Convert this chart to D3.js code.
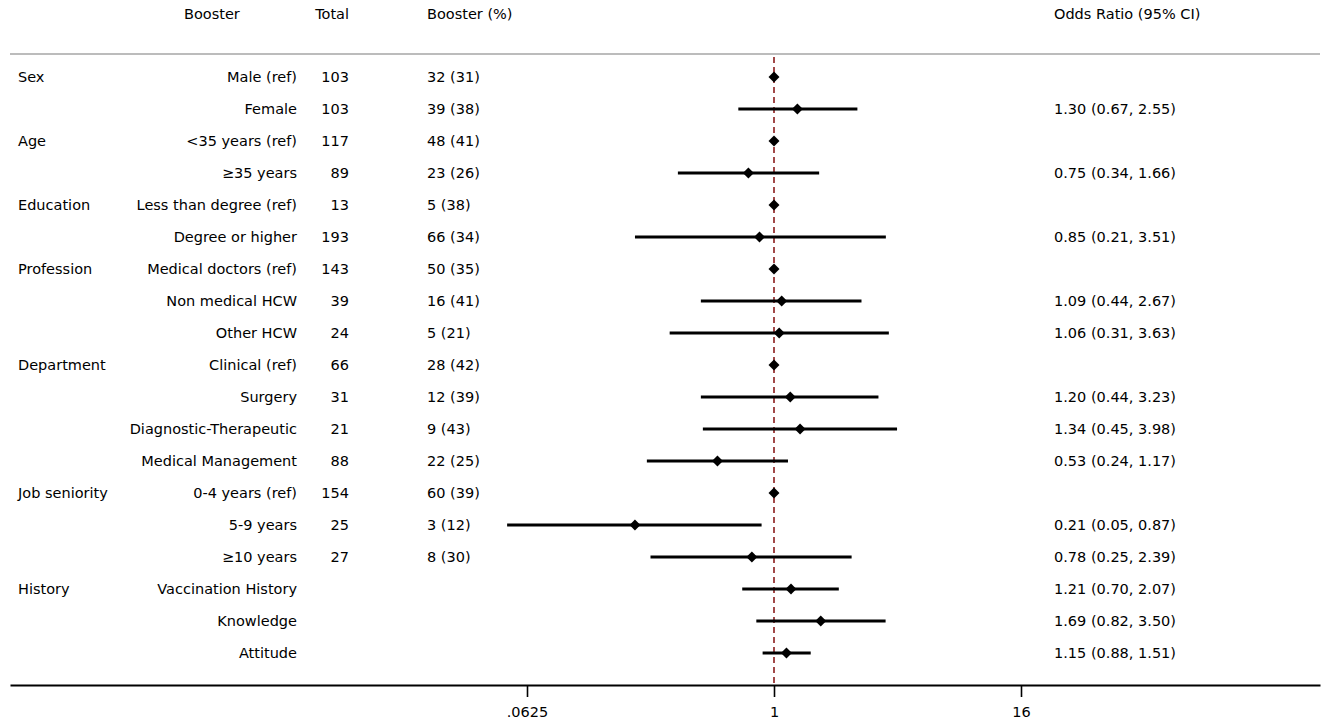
<!DOCTYPE html>
<html><head><meta charset="utf-8">
<script src="https://cdn.jsdelivr.net/npm/d3@7"></script>
<style>body{margin:0;background:#fff}text{font-family:"DejaVu Sans",sans-serif;font-size:14.5px;fill:#000}</style>
</head><body>
<svg id="c" width="1325" height="723"></svg>
<script>
const groups = ["Sex","","Age","","Education","","Profession","","","Department","","","","Job seniority","","","History","",""];
const labels = ["Male (ref)","Female","<35 years (ref)","≥35 years","Less than degree (ref)","Degree or higher","Medical doctors (ref)","Non medical HCW","Other HCW","Clinical (ref)","Surgery","Diagnostic-Therapeutic","Medical Management","0-4 years (ref)","5-9 years","≥10 years","Vaccination History","Knowledge","Attitude"];
const totals = ["103","103","117","89","13","193","143","39","24","66","31","21","88","154","25","27","","",""];
const boosterPct = ["32 (31)","39 (38)","48 (41)","23 (26)","5 (38)","66 (34)","50 (35)","16 (41)","5 (21)","28 (42)","12 (39)","9 (43)","22 (25)","60 (39)","3 (12)","8 (30)","","",""];
const oddsRatio = [1,1.30,1,0.75,1,0.85,1,1.09,1.06,1,1.20,1.34,0.53,1,0.21,0.78,1.21,1.69,1.15];
const ciLow = [null,0.67,null,0.34,null,0.21,null,0.44,0.31,null,0.44,0.45,0.24,null,0.05,0.25,0.70,0.82,0.88];
const ciHigh = [null,2.55,null,1.66,null,3.51,null,2.67,3.63,null,3.23,3.98,1.17,null,0.87,2.39,2.07,3.50,1.51];
const headers = ["Booster","Total","Booster (%)","Odds Ratio (95% CI)"];
const tickVals = [0.0625,1,16];
const tickLabels = [".0625","1","16"];

const svg = d3.select("#c");
const base = d3.scaleLog().base(2).domain([1/16,16]).range([527,1021]);
const x = d3.scaleLog().base(2).domain([base.invert(10), base.invert(1320)]).range([10,1320]);
const y = d3.scalePoint().domain(d3.range(labels.length)).range([77,653]);

// header
const hx = [[184,"start"],[349,"end"],[427,"start"],[1054,"start"]];
svg.selectAll("text.h").data(headers).join("text").attr("class","h")
  .attr("x",(d,i)=>hx[i][0]).attr("y",14).attr("dy","0.35em").attr("text-anchor",(d,i)=>hx[i][1]).text(d=>d);
svg.append("line").attr("x1",10).attr("x2",1320).attr("y1",54).attr("y2",54).attr("stroke","#bcbcbc").attr("stroke-width",2);

// reference line
svg.append("line").attr("x1",x(1)).attr("x2",x(1)).attr("y1",57).attr("y2",685)
  .attr("stroke","#8b1c1c").attr("stroke-width",1.6).attr("stroke-dasharray","6,4");

const rows = svg.selectAll("g.r").data(labels).join("g").attr("class","r")
  .attr("transform",(d,i)=>`translate(0,${y(i)})`);
rows.append("text").attr("x",18).attr("dy","0.35em").text((d,i)=>groups[i]);
rows.append("text").attr("x",297).attr("dy","0.35em").attr("text-anchor","end").text(d=>d);
rows.append("text").attr("x",349).attr("dy","0.35em").attr("text-anchor","end").text((d,i)=>totals[i]);
rows.append("text").attr("x",427).attr("dy","0.35em").text((d,i)=>boosterPct[i]);
rows.append("text").attr("x",1054).attr("dy","0.35em")
  .text((d,i)=>ciLow[i]==null?"":`${oddsRatio[i].toFixed(2)} (${ciLow[i].toFixed(2)}, ${ciHigh[i].toFixed(2)})`);
rows.filter((d,i)=>ciLow[i]!=null).append("line")
  .attr("x1",d=>x(ciLow[labels.indexOf(d)])).attr("x2",d=>x(ciHigh[labels.indexOf(d)]))
  .attr("stroke","#000").attr("stroke-width",3);
rows.append("path").attr("d",d3.symbol(d3.symbolSquare,60)())
  .attr("transform",(d,i)=>`translate(${x(oddsRatio[i])},0) rotate(45)`).attr("fill","#000");

// axis
const ax = svg.append("g").attr("transform","translate(0,685)")
  .call(d3.axisBottom(x).tickValues(tickVals).tickFormat((d,i)=>tickLabels[i]).tickSize(12).tickSizeOuter(0).tickPadding(10));
ax.select(".domain").attr("stroke-width",2.2);
ax.selectAll(".tick line").attr("stroke-width",1.6);
ax.selectAll(".tick text").attr("font-size",14.5).attr("font-family","DejaVu Sans, sans-serif");
</script>
</body></html>
